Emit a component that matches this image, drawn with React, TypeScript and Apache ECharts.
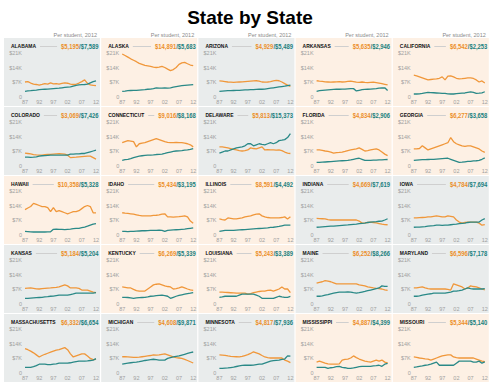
import React, { useEffect, useRef } from "react";
import * as echarts from "echarts";

const yearLabels = ["87","88","89","90","91","92","93","94","95","96","97","98","99","00","01","02","03","04","05","06","07","08","09","10","11","12"];
const yTicks = [0, 7, 14, 21];

const states = ["ALABAMA","ALASKA","ARIZONA","ARKANSAS","CALIFORNIA","COLORADO","CONNECTICUT","DELAWARE","FLORIDA","GEORGIA","HAWAII","IDAHO","ILLINOIS","INDIANA","IOWA","KANSAS","KENTUCKY","LOUISIANA","MAINE","MARYLAND","MASSACHUSETTS","MICHIGAN","MINNESOTA","MISSISSIPPI","MISSOURI"];
const orange2012 = [5195,14891,4929,5635,6542,3069,9016,5813,4834,6277,10358,5434,8591,4669,4784,5184,6269,5243,6252,6596,6332,4608,4817,4887,5344];
const teal2012 = [7589,5683,5489,2946,2253,7426,8168,15373,2906,3658,5328,3195,4492,7619,7694,5204,5339,3389,8266,7178,6654,9871,7936,4399,5140];

// values in $K per student, 1987-2012
const alabamaO = [7.0,7.2,6.5,6.0,5.8,5.5,5.8,6.2,6.0,6.6,6.1,6.2,6.0,6.3,6.6,6.4,6.0,5.8,5.9,6.5,7.2,8.0,6.3,5.6,5.4,5.2];
const alabamaT = [2.5,2.7,2.8,3.0,3.1,3.3,3.4,3.5,3.6,3.7,3.8,3.9,4.0,4.2,4.4,4.5,4.6,5.0,5.4,5.6,5.7,5.8,6.0,6.6,7.2,7.6];
const alaskaO = [20.5,19.8,19.0,18.2,17.5,16.8,16.0,15.5,15.0,14.8,14.5,14.2,14.0,14.2,14.5,14.0,13.2,12.5,13.0,14.0,15.5,16.2,16.5,15.8,15.2,14.9];
const alaskaT = [2.5,2.6,2.8,2.9,3.0,3.0,3.1,3.2,3.3,3.5,3.6,3.8,4.2,4.0,4.0,4.1,4.0,4.2,4.5,4.8,5.0,5.2,5.4,5.5,5.6,5.7];
const arizonaO = [7.5,7.4,7.2,7.0,6.9,6.8,6.9,7.0,7.1,7.2,7.3,7.4,7.5,7.6,7.4,7.0,6.9,7.0,7.2,7.5,7.8,7.6,7.0,6.2,5.5,4.9];
const arizonaT = [2.5,2.6,2.7,2.8,2.8,2.9,3.0,3.0,3.1,3.2,3.2,3.3,3.3,3.4,3.5,3.5,3.6,3.8,4.0,4.2,4.4,4.6,4.8,5.0,5.3,5.5];
const arkansasO = [7.6,7.4,7.3,7.1,7.0,6.9,7.0,7.1,7.2,7.0,7.1,7.3,7.4,7.2,6.9,6.8,7.0,6.8,6.7,6.8,6.9,6.7,6.5,6.2,5.9,5.6];
const arkansasT = [2.5,2.8,3.0,3.1,3.2,3.3,3.4,3.5,3.5,3.6,3.6,3.7,3.8,3.8,2.7,3.0,3.3,3.4,3.5,3.6,3.7,3.8,4.0,4.1,4.2,2.9];
const californiaO = [10.3,10.0,9.5,9.0,8.5,8.0,8.2,8.4,8.5,8.8,9.5,8.0,9.8,10.0,9.5,8.8,8.5,8.6,8.8,9.0,9.0,8.7,8.0,7.0,7.5,6.5];
const californiaT = [1.2,1.2,1.3,1.5,1.8,2.0,1.9,1.8,1.7,1.6,1.5,1.5,1.3,1.2,1.2,1.4,1.5,1.6,1.7,2.0,2.2,2.0,1.5,1.6,1.8,2.3];
const coloradoO = [6.0,5.8,5.6,5.3,5.1,5.0,5.0,5.2,5.3,5.4,5.5,5.6,5.7,5.6,5.5,5.0,3.8,3.9,4.0,4.2,4.3,4.4,4.5,4.5,3.8,3.1];
const coloradoT = [4.0,4.0,3.9,4.0,4.2,4.5,4.7,4.8,4.9,5.0,5.0,5.0,5.0,5.0,5.0,5.0,5.5,5.5,5.6,5.6,5.8,5.8,6.2,6.6,7.0,7.4];
const connecticutO = [11.0,11.5,12.0,11.8,11.5,9.0,10.5,10.8,11.0,11.5,12.0,12.5,13.0,12.5,12.0,11.5,11.2,11.0,11.0,11.2,11.0,11.0,10.8,10.5,10.0,9.0];
const connecticutT = [2.5,2.8,3.0,3.3,3.8,4.2,4.5,4.7,4.9,5.0,5.0,5.1,5.3,5.4,5.5,5.8,6.2,6.5,6.8,7.0,7.1,7.2,7.4,7.5,7.8,8.2];
const delawareO = [9.0,9.0,8.8,8.5,8.2,7.8,7.5,7.2,7.0,7.2,7.5,8.5,8.2,8.0,8.5,9.0,7.5,7.6,7.5,7.5,7.4,7.5,7.2,6.5,6.0,5.8];
const delawareT = [6.0,6.5,7.0,7.0,7.5,8.0,8.5,8.8,9.0,9.5,10.5,10.5,9.5,10.0,10.5,10.2,10.0,10.5,11.0,10.5,11.0,12.0,12.2,12.5,13.5,15.4];
const floridaO = [7.5,7.5,7.3,7.0,6.8,6.5,6.0,6.2,6.3,6.5,6.8,7.2,7.5,7.8,8.0,8.5,7.8,7.0,7.2,7.5,7.8,8.0,7.5,6.5,5.5,4.8];
const floridaT = [1.5,1.5,1.6,1.7,1.8,1.9,2.0,2.1,2.2,2.3,2.4,2.5,2.7,3.0,3.3,3.5,3.0,2.5,2.5,2.5,2.6,2.6,2.7,2.7,2.8,2.9];
const georgiaO = [8.0,8.0,8.2,9.5,8.5,7.5,8.0,8.5,9.0,9.5,10.0,10.5,11.0,13.5,11.5,10.5,10.0,9.5,9.2,9.5,9.5,9.0,8.5,8.0,7.0,6.3];
const georgiaT = [2.5,2.6,2.7,2.8,2.8,2.9,3.0,3.0,3.1,3.2,3.3,3.4,3.5,3.0,2.5,2.0,1.5,1.6,1.8,2.0,2.0,2.2,2.3,2.5,3.0,3.7];
const hawaiiO = [12.0,12.8,13.5,15.0,14.5,14.0,13.5,13.5,13.0,11.0,13.0,11.0,11.5,11.0,10.5,10.0,10.5,11.0,11.0,11.5,12.5,13.5,14.0,13.5,10.5,10.4];
const hawaiiT = [1.5,1.4,1.3,1.2,1.2,1.2,1.2,1.2,1.3,1.3,2.5,2.6,2.5,2.5,2.4,2.5,2.6,2.8,3.0,3.0,3.3,3.6,4.0,4.5,5.0,5.3];
const idahoO = [10.5,10.3,10.2,10.0,9.8,9.5,9.2,9.0,9.0,9.0,9.0,9.2,9.3,9.5,9.8,10.0,8.5,8.5,8.4,8.5,8.6,8.8,9.0,8.5,6.5,5.4];
const idahoT = [1.5,1.5,1.4,1.5,1.5,1.6,1.7,1.8,1.8,1.9,2.0,2.0,2.0,2.1,2.0,1.5,2.0,2.1,2.2,2.3,2.4,2.5,2.6,2.8,3.0,3.2];
const illinoisO = [7.5,7.2,7.0,8.0,7.8,7.5,7.5,7.8,8.0,8.5,8.8,9.0,9.5,9.8,10.0,9.0,8.5,8.2,8.0,8.0,8.0,8.0,8.2,8.5,7.5,8.6];
const illinoisT = [1.5,1.8,2.0,2.0,2.0,2.0,2.1,2.2,2.3,2.4,2.5,2.6,2.7,2.8,2.9,3.0,3.1,3.2,3.4,3.5,3.7,3.9,4.2,4.5,4.5,4.5];
const indianaO = [7.8,7.7,7.6,7.5,7.2,7.0,7.0,7.0,7.0,7.0,7.0,7.0,7.0,7.0,7.0,6.5,5.5,5.6,5.8,6.0,5.8,5.6,5.3,5.0,4.8,4.7];
const indianaT = [3.5,3.6,3.7,3.8,3.9,4.0,4.0,4.2,4.3,4.4,4.5,4.6,4.8,4.9,5.0,5.2,5.4,5.5,5.8,6.0,6.1,6.2,6.4,6.5,7.0,7.6];
const iowaO = [8.0,8.0,8.1,8.2,8.3,8.5,8.5,8.8,9.0,8.8,8.5,8.5,9.0,8.8,8.5,7.0,6.0,5.5,5.8,6.0,6.0,6.0,6.0,5.5,4.5,4.8];
const iowaT = [3.5,3.6,3.6,3.7,3.8,4.0,4.2,4.3,4.5,4.5,4.4,4.5,4.5,4.7,4.9,5.0,5.2,5.4,5.5,5.8,6.0,6.0,6.0,6.0,7.0,7.7];
const kansasO = [7.3,7.4,7.5,7.3,7.1,7.0,7.2,7.3,7.4,7.5,7.7,7.8,8.0,8.5,9.0,8.5,7.5,7.5,7.5,7.3,6.5,6.5,6.5,6.0,5.5,5.2];
const kansasT = [2.5,2.5,2.6,2.7,2.8,2.9,3.0,3.2,3.3,3.5,3.6,3.8,4.0,4.0,4.0,4.0,4.3,4.6,5.0,5.0,5.0,5.0,5.0,5.0,5.0,5.2];
const kentuckyO = [8.0,7.8,7.5,7.5,6.8,6.2,6.0,6.0,6.0,7.0,8.0,9.0,9.3,9.5,9.0,8.5,8.2,8.0,7.0,7.2,7.5,8.0,7.5,7.0,6.6,6.3];
const kentuckyT = [3.0,3.0,2.9,2.7,2.5,2.7,2.8,2.9,3.0,3.2,3.5,3.6,3.8,3.9,4.0,3.8,3.5,2.5,3.0,3.5,3.9,4.2,4.5,4.8,5.0,5.3];
const louisianaO = [5.5,5.5,5.4,5.3,5.2,5.1,5.0,5.0,5.0,5.0,4.5,4.8,5.2,5.5,5.8,6.0,6.0,6.3,6.5,6.0,6.5,7.0,8.0,7.0,7.0,5.2];
const louisianaT = [3.0,3.2,3.5,3.5,3.5,3.5,3.5,4.0,4.5,4.5,4.5,4.5,4.5,4.0,3.5,2.5,2.5,2.5,2.5,2.5,3.0,3.5,3.2,3.0,3.0,3.4];
const maineO = [9.8,10.2,10.5,11.0,10.8,10.5,10.0,9.5,9.5,9.5,9.5,9.5,9.5,9.5,9.5,9.0,8.8,8.5,8.0,7.8,7.5,7.3,7.2,7.0,6.6,6.3];
const maineT = [3.5,3.5,3.7,4.0,4.3,4.7,5.0,5.3,5.5,5.5,5.5,5.6,5.5,5.2,5.0,5.2,5.5,5.8,6.2,6.5,6.8,7.2,7.5,8.5,8.3,8.3];
const marylandO = [7.5,7.5,7.8,8.0,7.5,7.2,7.0,7.0,7.0,7.0,7.0,7.0,6.8,6.5,9.5,9.0,8.5,8.0,7.0,7.5,8.5,8.2,8.0,7.5,7.0,6.6];
const marylandT = [3.5,3.5,3.7,4.0,4.3,4.5,4.7,5.0,5.0,5.0,5.0,5.0,5.3,5.5,6.0,6.0,6.2,6.5,7.0,7.5,7.2,7.0,7.0,7.0,7.0,7.2];
const massachusettsO = [11.5,11.0,10.3,9.5,8.5,7.5,8.2,8.8,9.3,9.8,10.3,10.8,11.0,11.5,12.0,11.0,9.0,7.5,8.0,8.5,9.0,9.0,8.0,6.8,6.2,6.3];
const massachusettsT = [2.5,2.5,2.5,2.8,3.3,4.0,4.0,4.0,3.8,3.8,4.0,4.2,4.5,4.5,4.5,4.5,4.7,5.0,5.3,5.5,5.5,5.5,5.6,5.8,6.0,6.7];
const michiganO = [7.6,7.6,7.5,7.4,7.3,7.3,7.4,7.6,7.8,8.0,8.2,8.5,8.4,8.5,8.8,9.0,8.5,8.0,7.5,7.2,7.0,6.8,6.3,5.8,5.2,4.6];
const michiganT = [4.0,4.3,4.5,4.7,4.9,5.0,5.2,5.5,5.8,6.0,6.2,6.4,6.2,6.0,6.0,6.0,6.8,7.2,7.5,7.8,8.0,8.4,8.8,9.2,9.6,9.9];
const minnesotaO = [8.5,8.4,8.3,8.0,7.8,7.7,7.6,7.5,7.8,8.2,8.6,9.2,10.0,9.5,9.0,8.2,7.5,7.2,7.0,7.0,7.0,7.0,7.0,6.0,5.5,4.8];
const minnesotaT = [2.0,2.0,2.1,2.2,2.4,2.6,2.9,3.2,3.4,3.5,3.5,3.5,3.6,3.8,4.0,4.0,4.5,5.0,5.5,5.7,5.9,6.0,6.3,6.5,8.0,7.9];
const mississippiO = [5.0,5.5,5.0,4.5,4.2,4.0,4.0,4.0,4.2,6.0,6.3,6.5,7.0,8.0,7.2,6.5,6.0,5.5,5.2,5.0,5.5,6.0,5.5,6.0,5.0,4.7];
const mississippiT = [2.5,2.5,2.5,2.5,2.0,2.3,2.5,2.8,3.0,2.5,2.3,2.0,2.0,2.2,2.5,2.8,3.0,3.0,3.0,3.0,3.2,3.3,3.5,3.0,4.0,4.4];
const missouriO = [7.5,7.3,7.0,6.8,6.6,6.5,6.0,6.5,7.0,7.5,8.0,8.3,8.5,8.5,7.5,7.2,7.0,7.0,7.0,7.0,7.0,7.0,6.5,6.0,5.5,5.3];
const missouriT = [2.5,2.7,3.0,3.2,3.5,3.7,4.0,4.5,5.0,3.5,3.5,3.5,3.5,3.5,3.5,4.5,5.5,5.5,5.5,5.5,5.5,5.0,5.0,5.5,4.5,5.1];

const orangeSeries = [alabamaO,alaskaO,arizonaO,arkansasO,californiaO,coloradoO,connecticutO,delawareO,floridaO,georgiaO,hawaiiO,idahoO,illinoisO,indianaO,iowaO,kansasO,kentuckyO,louisianaO,maineO,marylandO,massachusettsO,michiganO,minnesotaO,mississippiO,missouriO];
const tealSeries = [alabamaT,alaskaT,arizonaT,arkansasT,californiaT,coloradoT,connecticutT,delawareT,floridaT,georgiaT,hawaiiT,idahoT,illinoisT,indianaT,iowaT,kansasT,kentuckyT,louisianaT,maineT,marylandT,massachusettsT,michiganT,minnesotaT,mississippiT,missouriT];

const ORANGE = "#f0973a";
const TEAL = "#2a8987";
const ORANGE_TXT = "#ec8f2a";
const TEAL_TXT = "#21807e";
const GREY_BG = "#e9ecec";
const PEACH_BG = "#fdf0e4";
const AXIS_TXT = "#a0a0a0";
const SANS = '"Liberation Sans", Arial, sans-serif';

const COL_LEFT = [4, 101.2, 198.4, 295.6, 392.8];
const ROW_TOP = [38, 107, 176, 245, 314];
const PANEL_W = 96;
const PANEL_H = 68;

const NAME_SIZE = 6.2;
const NAME_SCALE = 0.8;
const VAL_SIZE = 6.5;
const VAL_SCALE = 0.9;

function fmt(n: number) {
  return "$" + n.toLocaleString("en-US");
}

export default function App() {
  const ref = useRef<HTMLDivElement>(null);
  useEffect(() => {
    if (!ref.current) return;
    const chart = echarts.init(ref.current, null, { renderer: "svg" });
    const canvas = document.createElement("canvas");
    const ctx = canvas.getContext("2d")!;
    const measure = (t: string, font: string) => {
      ctx.font = font;
      return ctx.measureText(t).width;
    };
    const nameFont = `bold ${NAME_SIZE}px ${SANS}`;
    const valFont = `bold ${VAL_SIZE}px ${SANS}`;

    const grids: any[] = [];
    const xAxes: any[] = [];
    const yAxes: any[] = [];
    const series: any[] = [];
    const graphics: any[] = [];

    graphics.push({
      type: "text",
      x: 250,
      y: 17,
      z: 20,
      style: { text: "State by State", fill: "#000", fontSize: 19, fontWeight: "bold", fontFamily: SANS, align: "center", verticalAlign: "middle" },
    });
    COL_LEFT.forEach((L) => {
      graphics.push({
        type: "text",
        x: L + 93,
        y: 34.5,
        z: 20,
        style: { text: "Per student, 2012", fill: "#8a8a8a", fontSize: 5.5, fontFamily: SANS, align: "right", verticalAlign: "middle" },
      });
    });

    states.forEach((name, i) => {
      const r = Math.floor(i / 5);
      const c = i % 5;
      const L = COL_LEFT[c];
      const T = ROW_TOP[r];
      const a = orange2012[i];
      const b = teal2012[i];
      graphics.push({
        type: "rect",
        z: -10,
        shape: { x: L, y: T, width: PANEL_W, height: PANEL_H },
        style: { fill: a > b ? PEACH_BG : GREY_BG },
      });
      graphics.push({
        type: "text",
        x: L + 7,
        y: T + 8,
        z: 20,
        scaleX: NAME_SCALE,
        style: { text: name, fill: "#111", fontSize: NAME_SIZE, fontWeight: "bold", fontFamily: SANS, align: "left", verticalAlign: "middle" },
      });
      const tA = fmt(a);
      const tB = fmt(b);
      const xEnd = L + 94.5;
      const wB = measure(tB, valFont) * VAL_SCALE;
      const wS = measure("/", valFont) * VAL_SCALE;
      const wA = measure(tA, valFont) * VAL_SCALE;
      const valStyle = { fontSize: VAL_SIZE, fontWeight: "bold", fontFamily: SANS, align: "right", verticalAlign: "middle" };
      graphics.push({
        type: "text", x: xEnd, y: T + 8, z: 20, scaleX: VAL_SCALE,
        style: { ...valStyle, text: tB, fill: TEAL_TXT },
      });
      graphics.push({
        type: "text", x: xEnd - wB, y: T + 8, z: 20, scaleX: VAL_SCALE,
        style: { ...valStyle, text: "/", fill: TEAL_TXT },
      });
      graphics.push({
        type: "text", x: xEnd - wB - wS, y: T + 8, z: 20, scaleX: VAL_SCALE,
        style: { ...valStyle, text: tA, fill: ORANGE_TXT },
      });
      const wN = measure(name, nameFont) * NAME_SCALE;
      const x1 = L + 7 + wN + 4;
      const x2 = xEnd - wB - wS - wA - 4;
      if (x2 > x1) {
        graphics.push({
          type: "line", z: 5,
          shape: { x1, y1: T + 8.5, x2, y2: T + 8.5 },
          style: { stroke: "#cfcfcf", lineWidth: 1 },
        });
      }

      grids.push({ left: L + 21, top: T + 15, width: 71, height: 43.5 });
      xAxes.push({
        type: "category",
        gridIndex: i,
        data: yearLabels,
        boundaryGap: false,
        axisLine: { show: false },
        axisTick: { show: false },
        splitLine: { show: false },
        axisLabel: { interval: 4, fontSize: 5.5, color: AXIS_TXT, fontFamily: SANS, margin: 2 },
      });
      yAxes.push({
        type: "value",
        gridIndex: i,
        min: yTicks[0],
        max: yTicks[yTicks.length - 1],
        interval: 7,
        axisLine: { show: false },
        axisTick: { show: false },
        splitLine: { show: false },
        axisLabel: {
          fontSize: 5.5,
          color: AXIS_TXT,
          fontFamily: SANS,
          margin: 3,
          formatter: (v: number) => (v === 0 ? "0" : "$" + v + "K"),
        },
      });
      series.push({
        type: "line",
        xAxisIndex: i,
        yAxisIndex: i,
        data: orangeSeries[i],
        showSymbol: false,
        symbol: "none",
        lineStyle: { color: ORANGE, width: 1.3 },
        itemStyle: { color: ORANGE },
        z: 3,
      });
      series.push({
        type: "line",
        xAxisIndex: i,
        yAxisIndex: i,
        data: tealSeries[i],
        showSymbol: false,
        symbol: "none",
        lineStyle: { color: TEAL, width: 1.3 },
        itemStyle: { color: TEAL },
        z: 4,
      });
    });

    chart.setOption({
      animation: false,
      backgroundColor: "#ffffff",
      grid: grids,
      xAxis: xAxes,
      yAxis: yAxes,
      series,
      graphic: { elements: graphics },
    });
    return () => chart.dispose();
  }, []);
  return (
    <div
      ref={ref}
      style={{ position: "fixed", left: 0, top: 0, width: 500, height: 383, background: "#fff" }}
    />
  );
}
